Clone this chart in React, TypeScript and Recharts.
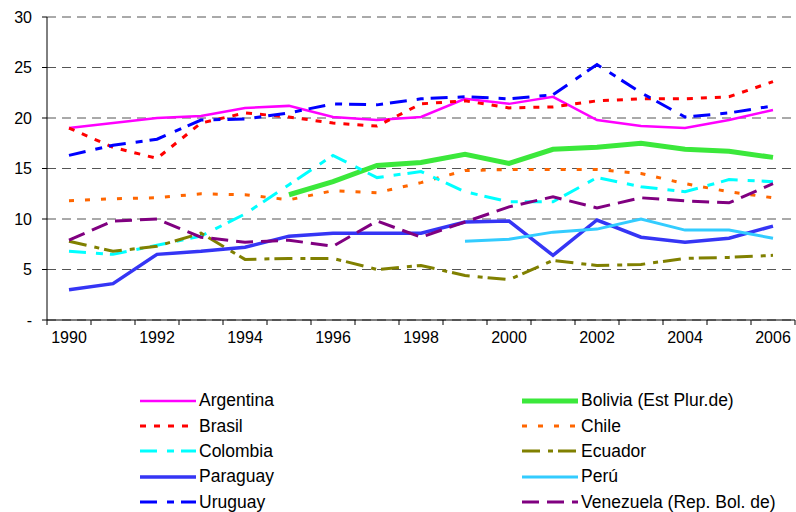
import { CartesianGrid, Line, LineChart, XAxis, YAxis } from 'recharts';

const years = [1990, 1991, 1992, 1993, 1994, 1995, 1996, 1997, 1998, 1999, 2000, 2001, 2002, 2003, 2004, 2005, 2006];
const yTicks = [0, 5, 10, 15, 20, 25, 30];

const argentina = [19.0, 19.5, 20.0, 20.2, 21.0, 21.2, 20.1, 19.8, 20.1, 21.9, 21.4, 22.1, 19.8, 19.2, 19.0, 19.8, 20.8];
const bolivia = [null, null, null, null, null, 12.4, 13.7, 15.3, 15.6, 16.4, 15.5, 16.9, 17.1, 17.5, 16.9, 16.7, 16.1];
const brasil = [19.0, 17.1, 16.0, 19.5, 20.5, 20.1, 19.5, 19.2, 21.4, 21.7, 21.0, 21.1, 21.7, 21.9, 21.9, 22.1, 23.6];
const chile = [11.8, 12.0, 12.1, 12.5, 12.4, 11.9, 12.8, 12.6, 13.6, 14.8, 14.9, 14.9, 14.9, 14.5, 13.5, 12.7, 12.1];
const colombia = [6.8, 6.5, 7.4, 8.3, 10.5, 13.4, 16.3, 14.1, 14.7, 12.7, 11.7, 11.7, 14.1, 13.2, 12.7, 13.9, 13.7];
const ecuador = [7.8, 6.8, 7.3, 8.6, 6.0, 6.1, 6.1, 5.0, 5.4, 4.4, 4.0, 5.9, 5.4, 5.5, 6.1, 6.2, 6.4];
const paraguay = [3.0, 3.6, 6.5, 6.8, 7.2, 8.3, 8.6, 8.6, 8.6, 9.7, 9.8, 6.4, 9.9, 8.2, 7.7, 8.1, 9.3];
const peru = [null, null, null, null, null, null, null, null, null, 7.8, 8.0, 8.7, 9.0, 10.0, 8.9, 8.9, 8.1];
const uruguay = [16.3, 17.3, 17.9, 19.8, 19.9, 20.5, 21.4, 21.3, 21.9, 22.1, 21.9, 22.3, 25.3, 22.5, 20.1, 20.5, 21.2];
const venezuela = [7.9, 9.8, 10.0, 8.2, 7.7, 7.9, 7.3, 9.8, 8.2, 9.7, 11.2, 12.2, 11.1, 12.1, 11.8, 11.6, 13.5];

const series = [
  { key: 'arg', name: 'Argentina', values: argentina, color: '#ff00ff', width: 2.5, dash: undefined },
  { key: 'bol', name: 'Bolivia (Est Plur.de)', values: bolivia, color: '#3be83b', width: 5, dash: undefined },
  { key: 'bra', name: 'Brasil', values: brasil, color: '#ff0000', width: 3, dash: '6 8' },
  { key: 'chi', name: 'Chile', values: chile, color: '#ff6600', width: 3, dash: '5 11' },
  { key: 'col', name: 'Colombia', values: colombia, color: '#00ffff', width: 3, dash: '17 10 7 7' },
  { key: 'ecu', name: 'Ecuador', values: ecuador, color: '#808000', width: 3, dash: '18 8 5 5' },
  { key: 'par', name: 'Paraguay', values: paraguay, color: '#3535f5', width: 3.5, dash: undefined },
  { key: 'per', name: 'Perú', values: peru, color: '#33ccff', width: 3, dash: undefined },
  { key: 'uru', name: 'Uruguay', values: uruguay, color: '#0000ff', width: 3, dash: '17 10 7 7' },
  { key: 'ven', name: 'Venezuela (Rep. Bol. de)', values: venezuela, color: '#800080', width: 3, dash: '17 8' },
];

const data = years.map((year, i) => {
  const row: Record<string, number | null> = { year };
  series.forEach(s => { row[s.key] = s.values[i]; });
  return row;
});

const FONT = '"Liberation Sans", Arial, sans-serif';
const HALF_STEP = 22; // half a category width in px

const YearTick = (props: any) => {
  const { x, y, payload, index } = props;
  const v = payload.value;
  return (
    <g>
      <line x1={x - HALF_STEP} y1={y} x2={x - HALF_STEP} y2={y + 5} stroke='#000' />
      {index === years.length - 1 && (
        <line x1={x + HALF_STEP} y1={y} x2={x + HALF_STEP} y2={y + 5} stroke='#000' />
      )}
      {v % 2 === 0 && (
        <text x={x} y={y + 23} textAnchor='middle' fontSize={16} fontFamily={FONT} fill='#000'>{v}</text>
      )}
    </g>
  );
};

const LegendItem = ({ s }: { s: typeof series[number] }) => (
  <div style={{ display: 'flex', alignItems: 'center', height: 25.4 }}>
    <svg width={61} height={10} style={{ flex: 'none' }}>
      <line x1={2} y1={5} x2={58} y2={5} stroke={s.color} strokeWidth={s.width} strokeDasharray={s.dash} />
    </svg>
    <span style={{ fontSize: 17.5, fontFamily: FONT, color: '#000', whiteSpace: 'nowrap' }}>{s.name}</span>
  </div>
);

export default function App() {
  const left = series.filter((_, i) => i % 2 === 0);
  const right = series.filter((_, i) => i % 2 === 1);
  return (
    <div style={{ position: 'absolute', left: 0, top: 0, width: 796, height: 512, background: '#fff' }}>
      <LineChart width={796} height={360} data={data} margin={{ top: 17, right: 1, bottom: 10, left: 0 }}>
        <CartesianGrid vertical={false} stroke='#555' strokeDasharray='9 6' />
        <XAxis
          dataKey='year'
          type='number'
          domain={[1989.5, 2006.5]}
          ticks={years}
          interval={0}
          height={30}
          tickSize={0}
          tickMargin={0}
          tickLine={false}
          axisLine={{ stroke: '#000' }}
          tick={<YearTick />}
        />
        <YAxis
          domain={[0, 30]}
          ticks={yTicks}
          width={47}
          tickSize={5}
          tickMargin={10}
          axisLine={{ stroke: '#000' }}
          tickLine={{ stroke: '#000' }}
          tick={{ fontSize: 16, fontFamily: FONT, fill: '#000' }}
          tickFormatter={(v: number) => (v === 0 ? '-' : String(v))}
        />
        {series.map(s => (
          <Line
            key={s.key}
            isAnimationActive={false}
            dataKey={s.key}
            name={s.name}
            stroke={s.color}
            strokeWidth={s.width}
            strokeDasharray={s.dash}
            dot={false}
            activeDot={false}
            type='linear'
          />
        ))}
      </LineChart>
      <div style={{ position: 'absolute', top: 388, left: 138, display: 'flex' }}>
        <div style={{ width: 382 }}>
          {left.map(s => <LegendItem key={s.key} s={s} />)}
        </div>
        <div>
          {right.map(s => <LegendItem key={s.key} s={s} />)}
        </div>
      </div>
    </div>
  );
}
